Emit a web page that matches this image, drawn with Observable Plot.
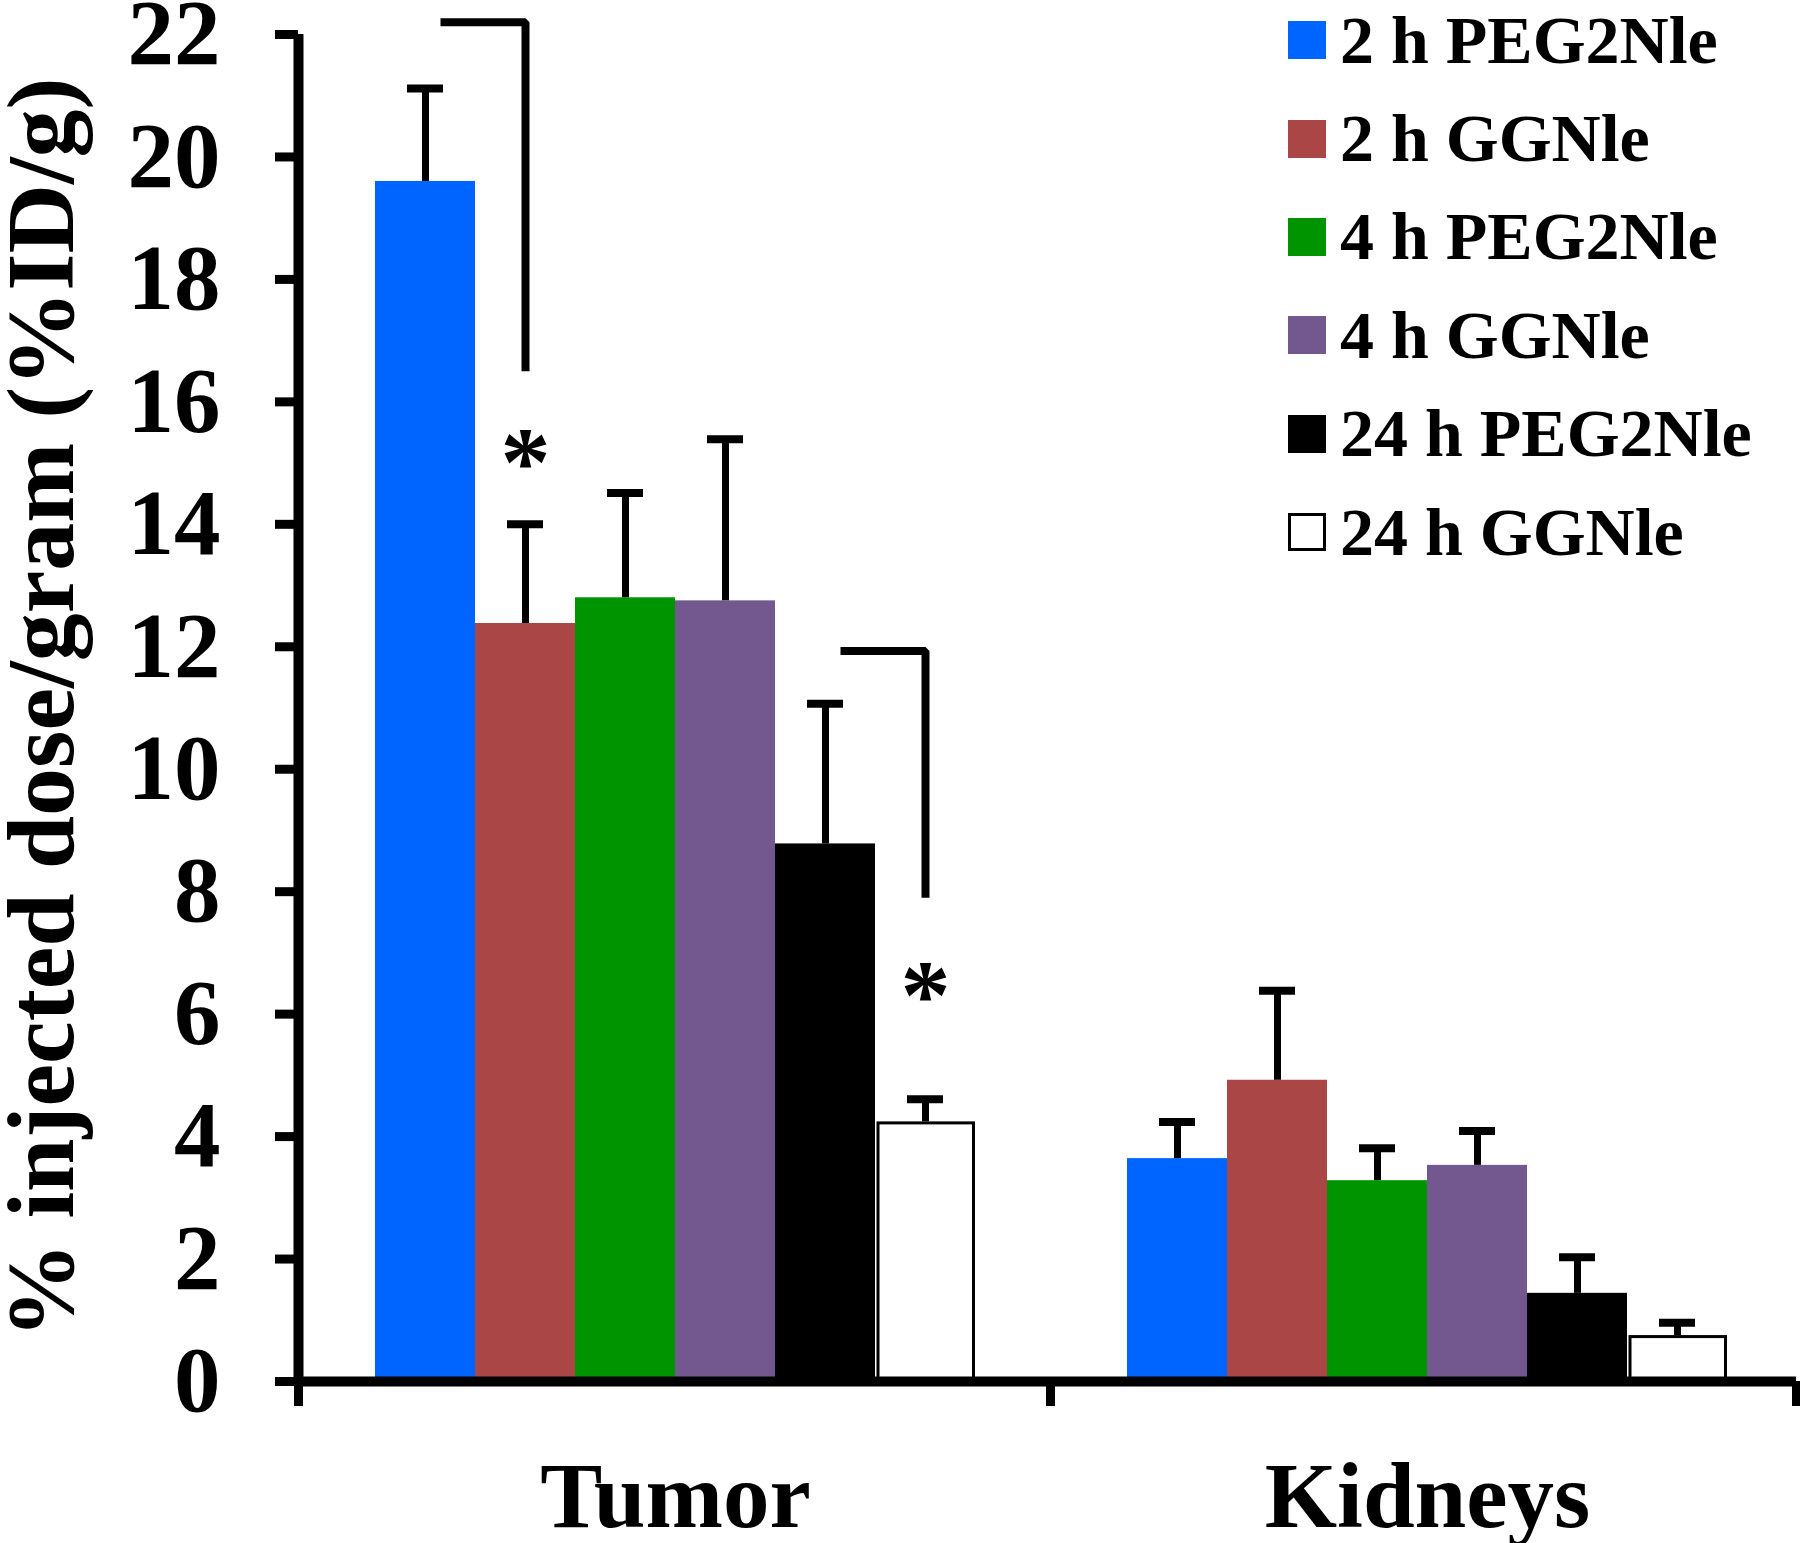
<!DOCTYPE html>
<html><head><meta charset="utf-8">
<script src="https://cdn.jsdelivr.net/npm/d3@7"></script>
<script src="https://cdn.jsdelivr.net/npm/@observablehq/plot@0.6"></script>
<style>
body{margin:0;background:#fff;}
#wrap{position:relative;width:1800px;height:1543px;}
#legend{position:absolute;left:1288px;top:-9px;font-family:"Liberation Serif","Times New Roman",serif;font-weight:bold;font-size:68px;color:#000;}
#legend .row{display:flex;align-items:center;height:98.4px;white-space:nowrap;}
#legend .sw{width:38px;height:38px;box-sizing:border-box;margin-right:14px;}
</style></head>
<body><div id="wrap"></div>
<script>
// ---- data ----
const organs = ["Tumor", "Kidneys"];
const series = ["2 h PEG2Nle", "2 h GGNle", "4 h PEG2Nle", "4 h GGNle", "24 h PEG2Nle", "24 h GGNle"];
const colors = ["#0064FF", "#AA4646", "#009400", "#72588F", "#000000", "#FFFFFF"];
const tumorMeans = [19.6, 12.38, 12.8, 12.75, 8.78, 4.24];
const tumorErr = [1.52, 1.62, 1.71, 2.64, 2.29, 0.37];
const kidneyMeans = [3.64, 4.92, 3.28, 3.53, 1.44, 0.75];
const kidneyErr = [0.6, 1.46, 0.53, 0.56, 0.59, 0.21];
const yTicks = [0, 2, 4, 6, 8, 10, 12, 14, 16, 18, 20, 22];
const yLabel = "% injected dose/gram (%ID/g)";
// significance brackets: within organ, from series index to series index
const bracketOrgan = ["Tumor", "Tumor"];
const bracketFrom = [0, 4];
const bracketTo = [1, 5];
const bracketTop = [22.2, 11.93];
const bracketBottom = [16.5, 7.9];
const starY = [15.0, 6.3];

// ---- layout in bar units ----
const GROUP = 7.52, OFF = 0.77, XMAX = 14.98;
const means = [tumorMeans, kidneyMeans], errs = [tumorErr, kidneyErr];
const rows = organs.flatMap((o, g) => series.map((s, i) => ({
  organ: o, series: s, value: means[g][i], err: errs[g][i],
  x1: g * GROUP + OFF + i, x2: g * GROUP + OFF + i + 1, xc: g * GROUP + OFF + i + 0.5
})));
const center = (o, i) => organs.indexOf(o) * GROUP + OFF + i + 0.5;
const brackets = bracketOrgan.map((o, k) => ({
  k, xs: center(o, bracketFrom[k]) + 0.15, xe: center(o, bracketTo[k]),
  top: bracketTop[k], bottom: bracketBottom[k], star: starY[k]
}));
const bracketPts = brackets.flatMap(b => [
  {k: b.k, x: b.xs, y: b.top}, {k: b.k, x: b.xe, y: b.top}, {k: b.k, x: b.xe, y: b.bottom}
]);
const groupCenters = organs.map((o, g) => g * GROUP + OFF + series.length / 2);
const boundaries = [0, GROUP, XMAX];

const chart = Plot.plot({
  width: 1800, height: 1543,
  marginLeft: 298, marginRight: 4, marginTop: 34, marginBottom: 162,
  x: {domain: [0, XMAX], axis: null},
  y: {domain: [0, 22], axis: null},
  color: {domain: series, range: colors},
  style: {fontFamily: "'Liberation Serif','Times New Roman',serif", fontWeight: "bold", fontSize: "93px", color: "#000", background: "#fff", overflow: "visible"},
  marks: [
    Plot.rect(rows, {x1: "x1", x2: "x2", y1: 0, y2: "value", fill: "series"}),
    Plot.rect(rows.filter(d => d.series === "24 h GGNle"), {x1: "x1", x2: "x2", y1: 0, y2: "value", fill: "#fff", stroke: "#000", strokeWidth: 3, insetLeft: 3, insetRight: 1.5, insetTop: 1.5}),
    Plot.ruleX(rows, {x: "xc", y1: "value", y2: d => d.value + d.err, stroke: "#000", strokeWidth: 7}),
    Plot.ruleY(rows, {y: d => d.value + d.err, x1: d => d.xc - 0.18, x2: d => d.xc + 0.18, stroke: "#000", strokeWidth: 8}),
    Plot.axisY({ticks: yTicks, tickSize: 23, tickPadding: 55, strokeWidth: 9, label: null}),
    Plot.axisY({ticks: [], label: yLabel, labelAnchor: "center", labelOffset: 294, labelArrow: false, fontSize: 96}),
    Plot.axisX({ticks: boundaries, tickSize: 25, tickFormat: () => "", strokeWidth: 9, label: null}),
    Plot.axisX({ticks: groupCenters, tickSize: 0, tickPadding: 79, tickFormat: (d) => organs[groupCenters.indexOf(d)], label: null}),
    Plot.ruleX([0], {y1: 0, y2: 22, stroke: "#000", strokeWidth: 10, insetTop: -4}),
    Plot.ruleY([0], {stroke: "#000", strokeWidth: 10}),
    Plot.line(bracketPts, {x: "x", y: "y", z: "k", stroke: "#000", strokeWidth: 8, strokeLinejoin: "miter", strokeLinecap: "butt"}),
    Plot.text(brackets, {x: "xe", y: "star", text: () => "*", fontSize: 100, fontWeight: "bold"})
  ]
});
const wrap = document.getElementById("wrap");
wrap.appendChild(chart);

// legend from the chart's own color scale
const cs = chart.scale("color");
const lg = document.createElement("div");
lg.id = "legend";
cs.domain.forEach((s, i) => {
  const row = document.createElement("div"); row.className = "row";
  const sw = document.createElement("div"); sw.className = "sw";
  sw.style.background = cs.range[i];
  if (cs.range[i].toUpperCase() === "#FFFFFF") sw.style.border = "3px solid #000";
  const t = document.createElement("span"); t.textContent = s;
  row.appendChild(sw); row.appendChild(t); lg.appendChild(row);
});
wrap.appendChild(lg);
</script></body></html>
